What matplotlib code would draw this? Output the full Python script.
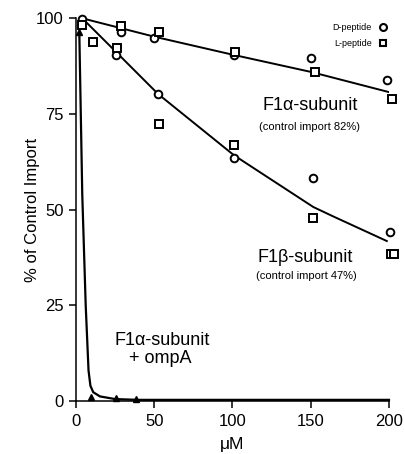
import matplotlib
matplotlib.use('Agg')
import matplotlib.pyplot as plt

plt.rcParams['font.family'] = ['Liberation Sans', 'DejaVu Sans']

# F1alpha-subunit data
alfa_d_x = [3.8, 28.7, 50, 101, 150, 199]
alfa_d_y = [99.8, 96.5, 94.8, 90.3, 89.5, 84.0]
alfa_l_x = [28.7, 53, 101.5, 152.6, 202]
alfa_l_y = [98.1, 96.5, 91.2, 85.9, 78.8]
alfa_fit_x = [4, 50, 100, 150, 202]
alfa_fit_y = [100, 95.2, 90.5, 86.0, 80.5]

# F1beta-subunit data
beta_d_x = [25.6, 52.5, 101, 151.6, 200.7]
beta_d_y = [90.5, 80.2, 63.6, 58.3, 44.1]
beta_l_x = [3.8, 10.6, 26, 53, 101, 151.6, 201, 203]
beta_l_y = [98.3, 93.9, 92.2, 72.4, 67.0, 47.9, 38.3, 38.3]
beta_fit_x = [4, 25.6, 52.5, 101, 151.6, 164, 198.6]
beta_fit_y = [100, 91.2, 80.2, 64.2, 50.7, 48.3, 41.8]

# F1alpha + ompA
omp_x = [2.1, 9.6, 25.3, 38.3]
omp_y = [96.5, 1.0, 0.9, 0.5]
omp_fit_x = [2.1, 4.0, 6.2, 8.0, 9.2, 11.0, 15.3, 25, 40, 100, 200]
omp_fit_y = [96.5, 54, 25, 8, 4, 2.3, 1.2, 0.5, 0.3, 0.3, 0.3]

fig = plt.figure(figsize=(4.06, 4.54), dpi=100)
ax = fig.add_axes([76/406, 1-401/454, 313/406, 382.7/454])

ax.plot(alfa_fit_x, alfa_fit_y, color='black', lw=1.4)
ax.plot(beta_fit_x, beta_fit_y, color='black', lw=1.4)
ax.plot(omp_fit_x, omp_fit_y, color='black', lw=1.6, clip_on=False)

ax.plot(alfa_d_x, alfa_d_y, 'o', mfc='white', mec='black', mew=1.4, ms=5.5, clip_on=False)
ax.plot(beta_d_x, beta_d_y, 'o', mfc='white', mec='black', mew=1.4, ms=5.5, clip_on=False)
ax.plot(alfa_l_x, alfa_l_y, 's', mfc='white', mec='black', mew=1.4, ms=5.5, clip_on=False)
ax.plot(beta_l_x, beta_l_y, 's', mfc='white', mec='black', mew=1.4, ms=5.5, clip_on=False)
ax.plot(omp_x, omp_y, '^', color='black', ms=5, clip_on=False)

ax.set_xlim(0, 200)
ax.set_ylim(0, 100)
ax.set_xticks([0, 50, 100, 150, 200])
ax.set_yticks([0, 25, 50, 75, 100])
ax.tick_params(direction='out', length=5, width=1.1, labelsize=12, pad=4)
ax.spines['top'].set_visible(False)
ax.spines['right'].set_visible(False)
ax.spines['left'].set_linewidth(1.1)
ax.spines['bottom'].set_linewidth(1.1)
ax.set_xlabel('\u03bcM', fontsize=12.5, labelpad=6)
ax.set_ylabel('% of Control Import', fontsize=12, labelpad=-3)

ax.text(149.5, 77.3, 'F1\u03b1-subunit', fontsize=13, ha='center', va='center')
ax.text(149.5, 71.6, '(control import 82%)', fontsize=8, ha='center', va='center')
ax.text(146.7, 37.4, 'F1\u03b2-subunit', fontsize=13, ha='center', va='center')
ax.text(147.3, 32.7, '(control import 47%)', fontsize=8, ha='center', va='center')
ax.text(54.8, 15.9, 'F1\u03b1-subunit', fontsize=13, ha='center', va='center')
ax.text(53.6, 11.2, '+ ompA', fontsize=13, ha='center', va='center')
ax.text(189, 97.7, 'D-peptide', fontsize=6.5, ha='right', va='center')
ax.text(189, 93.5, 'L-peptide', fontsize=6.5, ha='right', va='center')
ax.plot([196], [97.7], 'o', mfc='white', mec='black', mew=1.5, ms=5, clip_on=False)
ax.plot([196], [93.5], 's', mfc='white', mec='black', mew=1.5, ms=5, clip_on=False)

fig.savefig('out.png', dpi=100)
